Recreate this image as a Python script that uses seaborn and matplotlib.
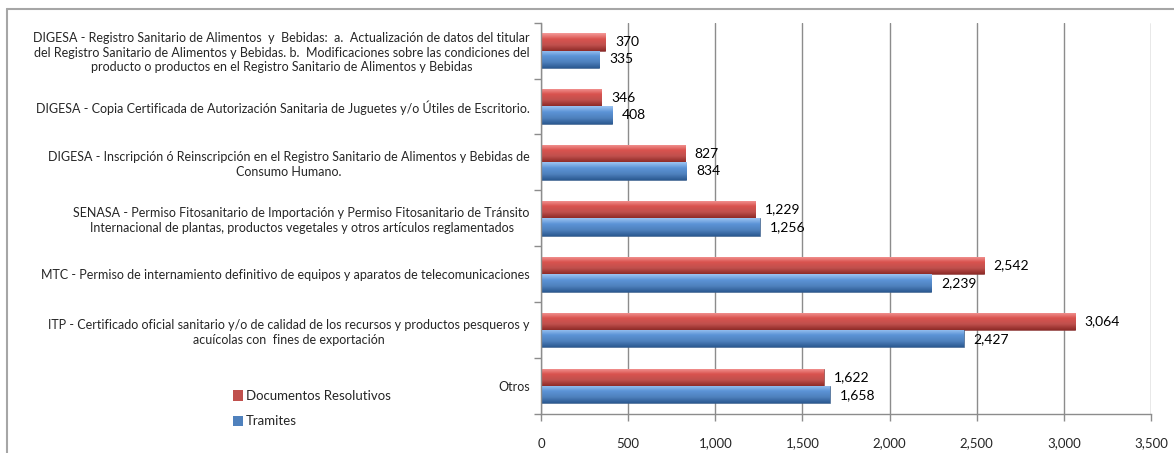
import numpy as np
import pandas as pd
import matplotlib
matplotlib.use('Agg')
import matplotlib.pyplot as plt
from matplotlib.colors import LinearSegmentedColormap
from matplotlib.lines import Line2D
from matplotlib.patches import Patch
from matplotlib.ticker import FuncFormatter, MultipleLocator, FixedLocator
import seaborn as sns

categorias = [
    'DIGESA - Registro Sanitario de Alimentos  y  Bebidas:  a.  Actualización de datos del titular\n'
    'del Registro Sanitario de Alimentos y Bebidas. b.  Modificaciones sobre las condiciones del\n'
    'producto o productos en el Registro Sanitario de Alimentos y Bebidas',
    'DIGESA - Copia Certificada de Autorización Sanitaria de Juguetes y/o Útiles de Escritorio.',
    'DIGESA - Inscripción ó Reinscripción en el Registro Sanitario de Alimentos y Bebidas de\n'
    'Consumo Humano.',
    'SENASA - Permiso Fitosanitario de Importación y Permiso Fitosanitario de Tránsito\n'
    'Internacional de plantas, productos vegetales y otros artículos reglamentados',
    'MTC - Permiso de internamiento definitivo de equipos y aparatos de telecomunicaciones',
    'ITP - Certificado oficial sanitario y/o de calidad de los recursos y productos pesqueros y\n'
    'acuícolas con  fines de exportación',
    'Otros',
]
series = ['Documentos Resolutivos', 'Tramites']
documentos = [370, 346, 827, 1229, 2542, 3064, 1622]
tramites = [335, 408, 834, 1256, 2239, 2427, 1658]

df = pd.DataFrame({
    'categoria': categorias * 2,
    'serie': [series[0]] * len(categorias) + [series[1]] * len(categorias),
    'valor': documentos + tramites,
})

sns.set_style('white')
plt.rcParams['font.family'] = ['Lato', 'DejaVu Sans']

base = {series[0]: '#C0504D', series[1]: '#4F81BD'}
grads = {
    series[0]: LinearSegmentedColormap.from_list('r', ['#F59A98', '#D9534F', '#C0504D', '#8E2B28']),
    series[1]: LinearSegmentedColormap.from_list('b', ['#9CC4F2', '#5B93D6', '#4F81BD', '#2B5A92']),
}

fig = plt.figure(figsize=(11.74, 4.53), dpi=100)
ax = fig.add_axes([0.4608, 0.0861, 0.5196, 0.864])

sns.barplot(data=df, y='categoria', x='valor', hue='serie', order=categorias,
            hue_order=series, palette=base, orient='h', width=0.62,
            ax=ax, legend=False, saturation=1)

grad = np.linspace(0, 1, 64).reshape(-1, 1)
for cont, s in zip(ax.containers, series):
    for p in cont:
        b = p.get_bbox()
        p.set_edgecolor('#7a3030' if s == series[0] else '#2d4f7a')
        p.set_linewidth(0.4)
        im = ax.imshow(grad, cmap=grads[s], extent=[b.x0, b.x1, min(b.y0, b.y1), max(b.y0, b.y1)],
                       origin='lower', aspect='auto', zorder=p.get_zorder() + 0.1)
        im.set_clip_path(p)
    ax.bar_label(cont, labels=[f'{v:,.0f}' for v in cont.datavalues], padding=7,
                 fontsize=10, color='black')

ax.set_xlim(0, 3500)
ax.set_ylim(6.5, -0.5)

ax.xaxis.set_major_locator(MultipleLocator(500))
ax.xaxis.set_major_formatter(FuncFormatter(lambda v, _: f'{v:,.0f}'))
ax.grid(axis='x', color='#8c8c8c', linewidth=1)
ax.grid(axis='y', visible=False)
ax.set_axisbelow(True)
ax.set_xlabel('')
ax.set_ylabel('')

ax.yaxis.set_minor_locator(FixedLocator(np.arange(-0.5, 7, 1)))
ax.tick_params(axis='y', which='major', length=0, pad=8, labelsize=9)
ax.tick_params(axis='y', which='minor', length=5, color='#8c8c8c', width=1, left=True)
ax.tick_params(axis='x', length=5, color='#8c8c8c', width=1, bottom=True, pad=12, labelsize=9.5)
for t in ax.get_yticklabels():
    t.set_multialignment('center')
    t.set_linespacing(1.25)

for side in ['top', 'right']:
    ax.spines[side].set_visible(False)
for side in ['left', 'bottom']:
    ax.spines[side].set_color('#8c8c8c')
    ax.spines[side].set_linewidth(1)

handles = [Patch(facecolor=base[s], edgecolor='none') for s in series]
fig.legend(handles, series, loc='upper left', bbox_to_anchor=(0.188, 0.165),
           frameon=False, fontsize=9.5, handlelength=0.8, handleheight=0.8,
           handletextpad=0.2, labelspacing=1.0)

# marco exterior del grafico
fig.add_artist(Line2D([7 / 1174, 7 / 1174], [0, 1 - 9 / 453], transform=fig.transFigure,
                      color='#a6a6a6', linewidth=1.5))
fig.add_artist(Line2D([7 / 1174, 1], [1 - 9 / 453, 1 - 9 / 453], transform=fig.transFigure,
                      color='#a6a6a6', linewidth=1.5))

fig.savefig('out.png', dpi=100)
